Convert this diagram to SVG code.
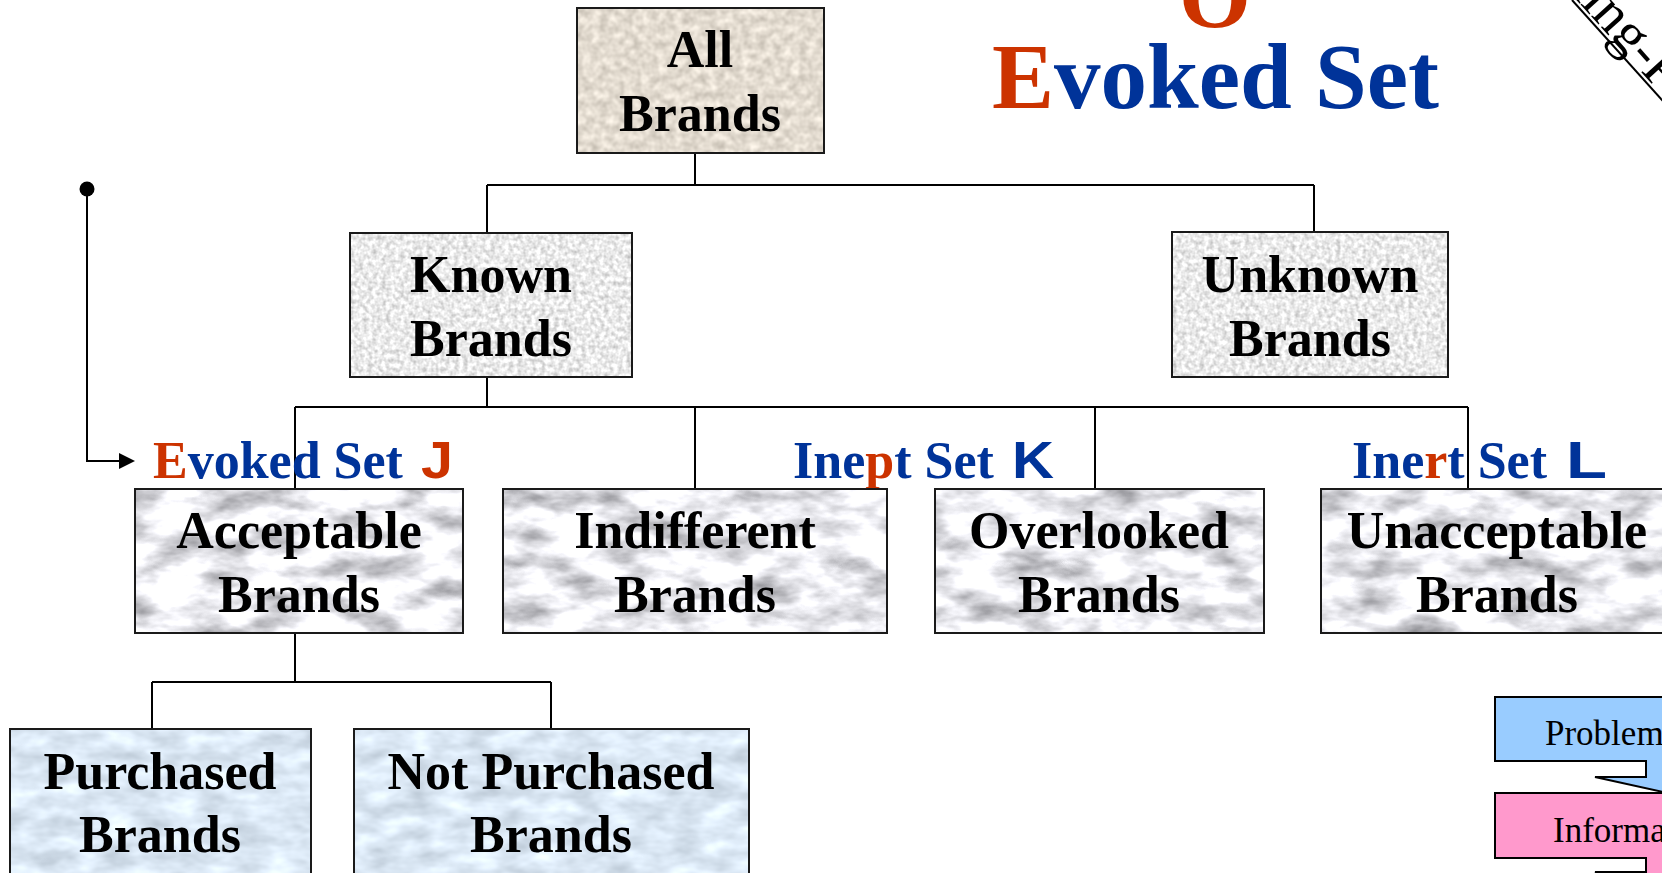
<svg xmlns="http://www.w3.org/2000/svg" width="1662" height="873" viewBox="0 0 1662 873">
  <style>
    .box { fill: none; stroke: #1a1a1a; stroke-width: 2; }
    .node-text { font-family: "Liberation Serif", "Times New Roman", serif; font-weight: bold; font-size: 52px; fill: #000; text-anchor: middle; }
    .label { font-family: "Liberation Serif", "Times New Roman", serif; font-weight: bold; font-size: 52px; }
    .glyph { font-family: "Liberation Sans", Arial, sans-serif; font-weight: bold; font-size: 52px; }
    .blue { fill: #003399; }
    .orange { fill: #cc3300; }
    .conn { fill: none; stroke: #000; stroke-width: 2; }
    .step { stroke: #000; stroke-width: 2; }
    .step-text { font-family: "Liberation Serif", "Times New Roman", serif; font-size: 35px; fill: #000; }
  </style>
  <defs>
    <!-- marble texture for the third-level boxes -->
    <filter id="marble" x="0" y="0" width="1" height="1" filterUnits="objectBoundingBox" color-interpolation-filters="sRGB">
      <feTurbulence type="fractalNoise" baseFrequency="0.02 0.045" numOctaves="4" seed="7"/>
      <feColorMatrix type="matrix" values="0.9 0 0 0 0.48  0.9 0 0 0 0.48  0.9 0 0 0 0.5  0 0 0 0 1"/>
    </filter>
    <!-- speckled granite for the known / unknown boxes -->
    <filter id="granite" x="0" y="0" width="1" height="1" filterUnits="objectBoundingBox" color-interpolation-filters="sRGB">
      <feTurbulence type="fractalNoise" baseFrequency="0.22" numOctaves="2" seed="3"/>
      <feColorMatrix type="matrix" values="0.45 0 0 0 0.695  0.45 0 0 0 0.695  0.45 0 0 0 0.695  0 0 0 0 1"/>
    </filter>
    <!-- beige parchment for the root box -->
    <filter id="parchment" x="0" y="0" width="1" height="1" filterUnits="objectBoundingBox" color-interpolation-filters="sRGB">
      <feTurbulence type="fractalNoise" baseFrequency="0.12" numOctaves="2" seed="11"/>
      <feColorMatrix type="matrix" values="0.3 0 0 0 0.74  0.3 0 0 0 0.71  0.3 0 0 0 0.665  0 0 0 0 1"/>
    </filter>
    <!-- pale blue texture for the purchase boxes -->
    <filter id="sky" x="0" y="0" width="1" height="1" filterUnits="objectBoundingBox" color-interpolation-filters="sRGB">
      <feTurbulence type="fractalNoise" baseFrequency="0.03 0.06" numOctaves="3" seed="5"/>
      <feColorMatrix type="matrix" values="0.3 0 0 0 0.71  0.3 0 0 0 0.76  0.3 0 0 0 0.81  0 0 0 0 1"/>
    </filter>
  </defs>

  <rect width="1662" height="873" fill="#ffffff"/>

  <!-- title -->
  <g id="title">
    <text x="1215" y="27" class="label orange" style="font-size:93px" text-anchor="middle">O</text>
    <text x="992" y="108" class="label" style="font-size:93px"><tspan class="orange">E</tspan><tspan class="blue">voked Set</tspan></text>
  </g>

  <!-- diagonal caption in the corner, sitting on its rule -->
  <g id="corner-caption">
    <line x1="1572" y1="0" x2="1690" y2="131" stroke="#000" stroke-width="2"/>
    <text transform="translate(1561,-17) rotate(48)" font-family="Liberation Serif, Times New Roman, serif" font-size="56" fill="#000">king-P</text>
  </g>

  <!-- connectors -->
  <g id="connectors">
    <path class="conn" d="M695,153 V185 M487,185 H1314 M487,185 V233 M1314,185 V232"/>
    <path class="conn" d="M487,377 V407 M295,407 H1468 M295,407 V489 M695,407 V489 M1095,407 V489 M1468,407 V489"/>
    <path class="conn" d="M295,633 V682 M152,682 H551 M152,682 V729 M551,682 V729"/>
    <circle cx="87" cy="189" r="7.5" fill="#000"/>
    <path class="conn" d="M87,189 V461 H121"/>
    <polygon points="119,453 135,461 119,469" fill="#000"/>
  </g>

  <!-- set labels -->
  <g id="label-evoked">
    <text x="153" y="478" class="label"><tspan class="orange">E</tspan><tspan class="blue">voked Set</tspan></text>
    <text x="421" y="478" class="glyph orange" textLength="32" lengthAdjust="spacingAndGlyphs">J</text>
  </g>
  <g id="label-inept">
    <text x="793" y="478" class="label"><tspan class="blue">Ine</tspan><tspan class="orange">p</tspan><tspan class="blue">t Set</tspan></text>
    <text x="1012" y="478" class="glyph blue" textLength="42" lengthAdjust="spacingAndGlyphs">K</text>
  </g>
  <g id="label-inert">
    <text x="1352" y="478" class="label"><tspan class="blue">Ine</tspan><tspan class="orange">r</tspan><tspan class="blue">t Set</tspan></text>
    <text x="1566" y="478" class="glyph blue" textLength="41" lengthAdjust="spacingAndGlyphs">L</text>
  </g>

  <!-- nodes -->
  <g id="node-all">
    <rect x="577" y="8" width="247" height="145" filter="url(#parchment)"/>
    <rect x="577" y="8" width="247" height="145" class="box"/>
    <text x="700" y="67" class="node-text">All</text>
    <text x="700" y="131" class="node-text">Brands</text>
  </g>
  <g id="node-known">
    <rect x="350" y="233" width="282" height="144" filter="url(#granite)"/>
    <rect x="350" y="233" width="282" height="144" class="box"/>
    <text x="491" y="292" class="node-text">Known</text>
    <text x="491" y="356" class="node-text">Brands</text>
  </g>
  <g id="node-unknown">
    <rect x="1172" y="232" width="276" height="145" filter="url(#granite)"/>
    <rect x="1172" y="232" width="276" height="145" class="box"/>
    <text x="1310" y="292" class="node-text">Unknown</text>
    <text x="1310" y="356" class="node-text">Brands</text>
  </g>
  <g id="node-acceptable">
    <rect x="135" y="489" width="328" height="144" filter="url(#marble)"/>
    <rect x="135" y="489" width="328" height="144" class="box"/>
    <text x="299" y="548" class="node-text">Acceptable</text>
    <text x="299" y="612" class="node-text">Brands</text>
  </g>
  <g id="node-indifferent">
    <rect x="503" y="489" width="384" height="144" filter="url(#marble)"/>
    <rect x="503" y="489" width="384" height="144" class="box"/>
    <text x="695" y="548" class="node-text">Indifferent</text>
    <text x="695" y="612" class="node-text">Brands</text>
  </g>
  <g id="node-overlooked">
    <rect x="935" y="489" width="329" height="144" filter="url(#marble)"/>
    <rect x="935" y="489" width="329" height="144" class="box"/>
    <text x="1099" y="548" class="node-text">Overlooked</text>
    <text x="1099" y="612" class="node-text">Brands</text>
  </g>
  <g id="node-unacceptable">
    <rect x="1321" y="489" width="360" height="144" filter="url(#marble)"/>
    <rect x="1321" y="489" width="360" height="144" class="box"/>
    <text x="1497" y="548" class="node-text">Unacceptable</text>
    <text x="1497" y="612" class="node-text">Brands</text>
  </g>
  <g id="node-purchased">
    <rect x="10" y="729" width="301" height="160" filter="url(#sky)"/>
    <rect x="10" y="729" width="301" height="160" class="box"/>
    <text x="160" y="789" class="node-text">Purchased</text>
    <text x="160" y="852" class="node-text">Brands</text>
  </g>
  <g id="node-not-purchased">
    <rect x="354" y="729" width="395" height="160" filter="url(#sky)"/>
    <rect x="354" y="729" width="395" height="160" class="box"/>
    <text x="551" y="789" class="node-text">Not Purchased</text>
    <text x="551" y="852" class="node-text">Brands</text>
  </g>

  <!-- decision process steps (right edge) -->
  <g id="step-problem">
    <polygon class="step" fill="#99ccff" points="1495,697 1700,697 1700,800 1595,777 1646,777 1646,761 1495,761"/>
    <text x="1545" y="745" class="step-text">Problem Recognition</text>
  </g>
  <g id="step-information">
    <polygon class="step" fill="#ff99cc" points="1495,793 1700,793 1700,900 1595,872 1646,872 1646,858 1495,858"/>
    <text x="1553" y="842" class="step-text">Information Search</text>
  </g>
</svg>
